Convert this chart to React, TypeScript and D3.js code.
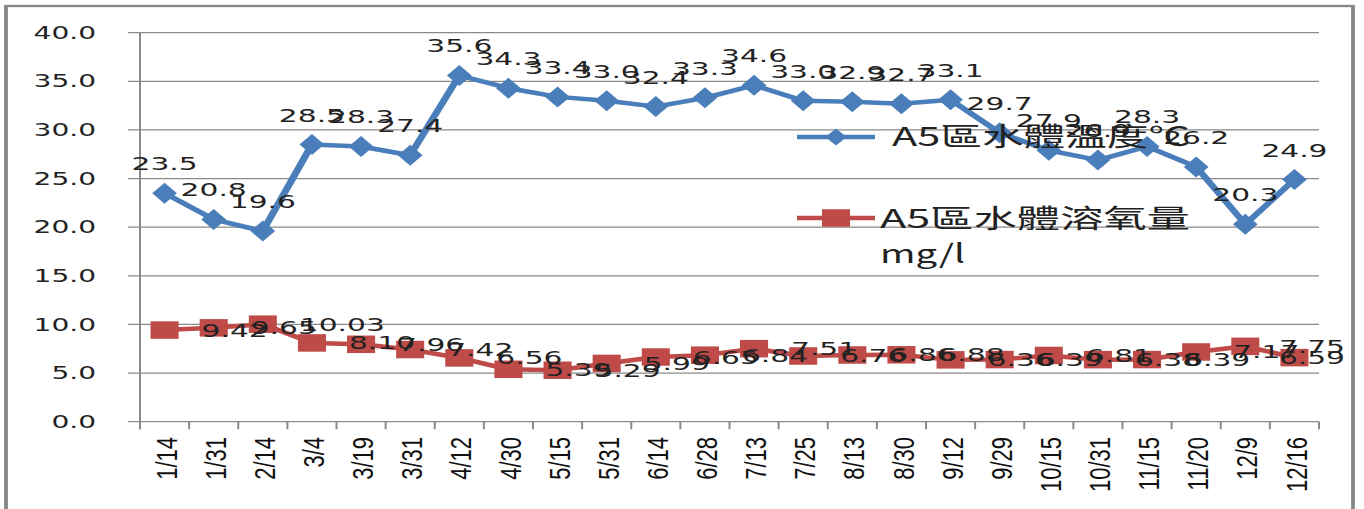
import { useEffect, useRef } from 'react';
import * as d3 from 'd3';

const dates = ['1/14', '1/31', '2/14', '3/4', '3/19', '3/31', '4/12', '4/30', '5/15', '5/31', '6/14', '6/28', '7/13', '7/25', '8/13', '8/30', '9/12', '9/29', '10/15', '10/31', '11/15', '11/20', '12/9', '12/16'];
const waterTemp = [23.5, 20.8, 19.6, 28.5, 28.3, 27.4, 35.6, 34.3, 33.4, 33.0, 32.4, 33.3, 34.6, 33.0, 32.9, 32.7, 33.1, 29.7, 27.9, 26.9, 28.3, 26.2, 20.3, 24.9];
const dissolvedOxygen = [9.42, 9.65, 10.03, 8.10, 7.96, 7.42, 6.56, 5.39, 5.29, 5.99, 6.65, 6.84, 7.51, 6.76, 6.86, 6.88, 6.36, 6.39, 6.81, 6.38, 6.39, 7.17, 7.75, 6.59];
const yTicks = [0, 5, 10, 15, 20, 25, 30, 35, 40];
const tempName = 'A5區水體溫度℃';
const oxygenName = ['A5區水體溶氧量', 'mg/l'];

const BLUE = '#4A7EBB';
const RED = '#BE4B48';
const GRID = '#8a8a8a';
const TEXT = '#222';

// the original picture is stretched sideways, so draw narrow and let the viewBox widen it
const S = 1.65;
const WIDTH = 1364;
const HEIGHT = 509;
const px = (v: number) => v / S;

export default function App() {
  const svgRef = useRef<SVGSVGElement>(null);

  useEffect(() => {
    if (!svgRef.current) return;
    const svg = d3.select(svgRef.current);
    svg.selectAll('*').remove();

    const x = d3.scaleBand<string>().domain(dates).range([px(140), px(1319)]);
    const y = d3.scaleLinear().domain([0, 40]).range([421.7, 32.7]);
    const cx = (d: string) => (x(d) ?? 0) + x.bandwidth() / 2;

    // outer frame
    svg
      .append('rect')
      .attr('x', px(6))
      .attr('y', 6)
      .attr('width', px(1353 - 6))
      .attr('height', 520)
      .attr('fill', 'none')
      .attr('stroke', '#878787')
      .attr('stroke-width', 2.3);

    // gridlines + y ticks
    svg
      .append('g')
      .selectAll('line')
      .data(yTicks)
      .enter()
      .append('line')
      .attr('x1', px(128))
      .attr('x2', px(1319))
      .attr('y1', d => y(d))
      .attr('y2', d => y(d))
      .attr('stroke', GRID)
      .attr('stroke-width', 1.2);

    svg
      .append('line')
      .attr('x1', px(140))
      .attr('x2', px(140))
      .attr('y1', y(40))
      .attr('y2', y(0) + 7.5)
      .attr('stroke', GRID)
      .attr('stroke-width', 1.2);

    // x tick marks between categories
    svg
      .append('g')
      .selectAll('line')
      .data(d3.range(dates.length + 1))
      .enter()
      .append('line')
      .attr('x1', i => x.range()[0] + i * x.step())
      .attr('x2', i => x.range()[0] + i * x.step())
      .attr('y1', y(0))
      .attr('y2', y(0) + 7.5)
      .attr('stroke', GRID)
      .attr('stroke-width', 1.2);

    // y labels
    svg
      .append('g')
      .selectAll('text')
      .data(yTicks)
      .enter()
      .append('text')
      .attr('x', px(96))
      .attr('y', d => y(d))
      .attr('dy', '0.36em')
      .attr('text-anchor', 'end')
      .attr('font-family', 'DejaVu Sans')
      .attr('font-size', 17)
      .attr('fill', TEXT)
      .text(d => d3.format('.1f')(d));

    // x labels, rotated
    svg
      .append('g')
      .selectAll('g')
      .data(dates)
      .enter()
      .append('g')
      .attr('transform', d => `translate(${cx(d)},437) rotate(-90) scale(1,0.83)`)
      .append('text')
      .attr('text-anchor', 'end')
      .attr('dy', '0.4em')
      .attr('font-family', 'Liberation Sans')
      .attr('font-size', 22)
      .attr('fill', '#111')
      .text(d => d);

    // series lines
    const tempLine = d3
      .line<number>()
      .x((_, i) => cx(dates[i]))
      .y(d => y(d));

    svg
      .append('path')
      .datum(waterTemp)
      .attr('d', tempLine)
      .attr('fill', 'none')
      .attr('stroke', BLUE)
      .attr('stroke-width', 4.5)
      .attr('stroke-linejoin', 'round');

    svg
      .append('path')
      .datum(dissolvedOxygen)
      .attr('d', tempLine)
      .attr('fill', 'none')
      .attr('stroke', RED)
      .attr('stroke-width', 4.5)
      .attr('stroke-linejoin', 'round');

    // markers
    const diamond = (hw: number, hh: number) => `M0,${-hh}L${hw},0L0,${hh}L${-hw},0Z`;

    svg
      .append('g')
      .selectAll('path')
      .data(waterTemp)
      .enter()
      .append('path')
      .attr('transform', (d, i) => `translate(${cx(dates[i])},${y(d)})`)
      .attr('d', diamond(7.5, 10.5))
      .attr('fill', BLUE);

    svg
      .append('g')
      .selectAll('rect')
      .data(dissolvedOxygen)
      .enter()
      .append('rect')
      .attr('x', (d, i) => cx(dates[i]) - 8.5)
      .attr('y', d => y(d) - 8.75)
      .attr('width', 17)
      .attr('height', 17.5)
      .attr('fill', RED);

    // data labels
    svg
      .append('g')
      .selectAll('text')
      .data(waterTemp)
      .enter()
      .append('text')
      .attr('x', (d, i) => cx(dates[i]))
      .attr('y', d => y(d) - 23)
      .attr('text-anchor', 'middle')
      .attr('font-family', 'DejaVu Sans')
      .attr('font-size', 18)
      .attr('fill', TEXT)
      .text(d => d3.format('.1f')(d));

    const labelRight = px(1345);
    svg
      .append('g')
      .selectAll('text')
      .data(dissolvedOxygen)
      .enter()
      .append('text')
      .each(function (d, i) {
        const lx = cx(dates[i]) + px(37);
        const clamp = lx + px(66) > labelRight;
        d3.select(this)
          .attr('x', clamp ? labelRight : lx)
          .attr('text-anchor', clamp ? 'end' : 'start');
      })
      .attr('y', d => y(d))
      .attr('dy', '0.36em')
      .attr('font-family', 'DejaVu Sans')
      .attr('font-size', 18)
      .attr('fill', TEXT)
      .text(d => d3.format('.2f')(d));

    // legend
    const legend = svg.append('g');
    legend
      .append('line')
      .attr('x1', px(797))
      .attr('x2', px(875))
      .attr('y1', 137)
      .attr('y2', 137)
      .attr('stroke', BLUE)
      .attr('stroke-width', 4.5);
    legend
      .append('path')
      .attr('transform', `translate(${px(836)},137)`)
      .attr('d', diamond(6.5, 8.5))
      .attr('fill', BLUE);
    legend
      .append('text')
      .attr('x', px(892))
      .attr('y', 146)
      .attr('textLength', px(298))
      .attr('lengthAdjust', 'spacingAndGlyphs')
      .attr('font-family', '"Noto Sans CJK TC", "DejaVu Sans"')
      .attr('font-size', 26)
      .attr('fill', TEXT)
      .text(tempName);

    legend
      .append('line')
      .attr('x1', px(797))
      .attr('x2', px(875))
      .attr('y1', 218)
      .attr('y2', 218)
      .attr('stroke', RED)
      .attr('stroke-width', 4.5);
    legend
      .append('rect')
      .attr('x', px(836) - 8.5)
      .attr('y', 218 - 8.75)
      .attr('width', 17)
      .attr('height', 17.5)
      .attr('fill', RED);
    legend
      .append('text')
      .attr('x', px(880))
      .attr('y', 228)
      .attr('textLength', px(310))
      .attr('lengthAdjust', 'spacingAndGlyphs')
      .attr('font-family', '"Noto Sans CJK TC", "DejaVu Sans"')
      .attr('font-size', 26)
      .attr('fill', TEXT)
      .text(oxygenName[0]);
    legend
      .append('text')
      .attr('x', px(880))
      .attr('y', 263)
      .attr('textLength', px(85))
      .attr('lengthAdjust', 'spacingAndGlyphs')
      .attr('font-family', '"Noto Sans CJK TC", "DejaVu Sans"')
      .attr('font-size', 26)
      .attr('fill', TEXT)
      .text(oxygenName[1]);
  }, []);

  return (
    <svg
      ref={svgRef}
      width={WIDTH}
      height={HEIGHT}
      viewBox={`0 0 ${WIDTH / S} ${HEIGHT}`}
      preserveAspectRatio="none"
      style={{ position: 'absolute', left: 0, top: 0, background: '#fff' }}
    />
  );
}
